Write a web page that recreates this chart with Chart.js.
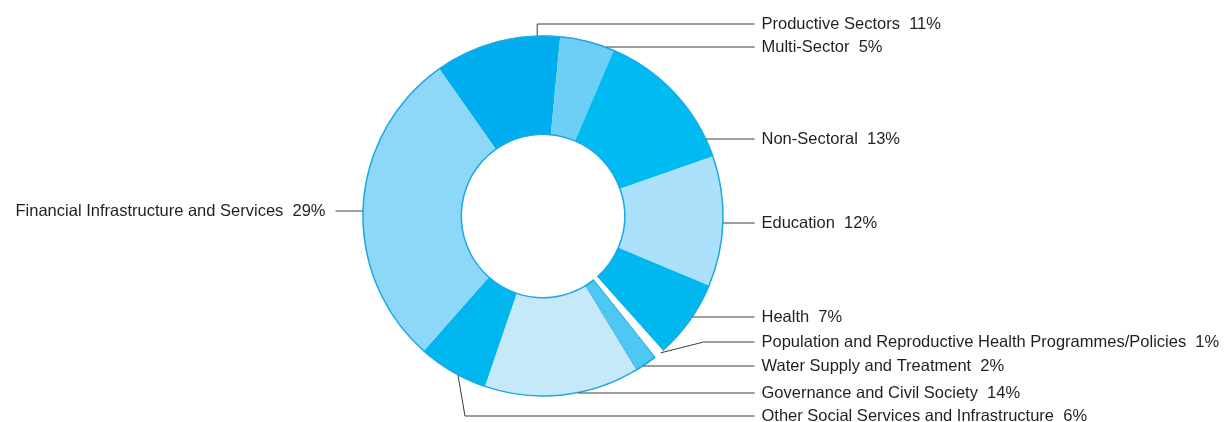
<!DOCTYPE html>
<html lang="en">
  <head>
    <meta charset="UTF-8" />
    <title>Sector Breakdown</title>
    <script src="https://cdn.jsdelivr.net/npm/chart.js"></script>
    <style>
      body {
        margin: 0;
        background: #ffffff;
      }
      #wrap {
        position: relative;
        width: 1224px;
        height: 422px;
      }
    </style>
  </head>
  <body>
    <div id="wrap"><canvas id="sectorChart"></canvas></div>
    <script>
      // data, clockwise from the upper left
      const sectors = [
        "Productive Sectors",
        "Multi-Sector",
        "Non-Sectoral",
        "Education",
        "Health",
        "Population and Reproductive Health Programmes/Policies",
        "Water Supply and Treatment",
        "Governance and Civil Society",
        "Other Social Services and Infrastructure",
        "Financial Infrastructure and Services",
      ];
      const shares = [11.3, 4.9, 13.2, 11.7, 7.1, 0.9, 2.0, 13.9, 6.3, 28.7];
      const shareLabels = ["11%", "5%", "13%", "12%", "7%", "1%", "2%", "14%", "6%", "29%"];

      const fills = [
        "#00adee", "#6dcff6", "#00bbf2", "#abe1fa", "#00b7ef",
        "#ffffff", "#4ec7f2", "#c5e9f9", "#00b6ef", "#8dd8f8",
      ];
      const edges = [0, 0, 0, 0, 0, 0, 1, 0, 0, 0];

      // label layout: y of the leader line, where it leaves the slice (t = fraction
      // of the slice angle, null = straight across), and the sideways bend
      const leaders = [
        { y: 24, t: 0.82, bend: 0, side: "right" },
        { y: 47, t: null, bend: 0, side: "right" },
        { y: 139, t: null, bend: 0, side: "right" },
        { y: 223, t: null, bend: 0, side: "right" },
        { y: 317, t: null, bend: 0, side: "right" },
        { y: 342, t: 0.3, bend: 43, side: "right" },
        { y: 366, t: null, bend: 0, side: "right" },
        { y: 393, t: null, bend: 0, side: "right" },
        { y: 416, t: 0.41, bend: 7, side: "right" },
        { y: 211, t: null, bend: 0, side: "left" },
      ];

      const ringOutline = {
        id: "ringOutline",
        afterDatasetsDraw(chart) {
          const ctx = chart.ctx;
          const arcs = chart.getDatasetMeta(0).data;
          ctx.save();
          ctx.strokeStyle = "#1fa9e3";
          ctx.lineWidth = 1.5;
          arcs.forEach((arc, i) => {
            if (fills[i] === "#ffffff") return;
            const p = arc.getProps(["x", "y", "startAngle", "endAngle", "innerRadius", "outerRadius"], true);
            ctx.beginPath();
            ctx.arc(p.x, p.y, p.outerRadius - 0.5, p.startAngle, p.endAngle);
            ctx.stroke();
            ctx.beginPath();
            ctx.arc(p.x, p.y, p.innerRadius + 0.5, p.startAngle, p.endAngle);
            ctx.stroke();
          });
          ctx.restore();
        },
      };

      const leaderLabels = {
        id: "leaderLabels",
        afterDraw(chart) {
          const ctx = chart.ctx;
          const arcs = chart.getDatasetMeta(0).data;
          ctx.save();
          ctx.strokeStyle = "#3a3a3a";
          ctx.lineWidth = 1;
          ctx.fillStyle = "#231f20";
          ctx.font = "16.5px 'Liberation Sans', Arial, sans-serif";
          ctx.textBaseline = "middle";
          arcs.forEach((arc, i) => {
            const p = arc.getProps(["x", "y", "startAngle", "endAngle", "outerRadius"], true);
            const L = leaders[i];
            const r = p.outerRadius;
            const dir = L.side === "right" ? 1 : -1;
            let ax, ay;
            if (L.t === null) {
              const dy = L.y - p.y;
              ax = p.x + dir * Math.sqrt(Math.max(r * r - dy * dy, 0));
              ay = L.y;
            } else {
              const a = p.startAngle + (p.endAngle - p.startAngle) * L.t;
              ax = p.x + Math.cos(a) * r;
              ay = p.y + Math.sin(a) * r;
            }
            const endX = dir > 0 ? p.x + r + 31 : p.x - r - 27;
            ctx.beginPath();
            ctx.moveTo(ax, ay);
            ctx.lineTo(ax + L.bend, L.y);
            ctx.lineTo(endX, L.y);
            ctx.stroke();
            ctx.textAlign = dir > 0 ? "left" : "right";
            const text = sectors[i] + "  " + shareLabels[i];
            ctx.fillText(text, endX + dir * (dir > 0 ? 7 : 10), L.y);
          });
          ctx.restore();
        },
      };

      new Chart(document.getElementById("sectorChart"), {
        type: "doughnut",
        data: {
          labels: sectors,
          datasets: [
            {
              data: shares,
              backgroundColor: fills,
              borderColor: "#1aa6e0",
              borderWidth: edges,
            },
          ],
        },
        options: {
          responsive: true,
          maintainAspectRatio: false,
          animation: false,
          rotation: -35.2,
          cutout: "45%",
          layout: { padding: { top: 35, bottom: 25, left: 0, right: 138 } },
          plugins: {
            legend: { display: false },
            tooltip: { enabled: false },
          },
        },
        plugins: [ringOutline, leaderLabels],
      });
    </script>
  </body>
</html>
